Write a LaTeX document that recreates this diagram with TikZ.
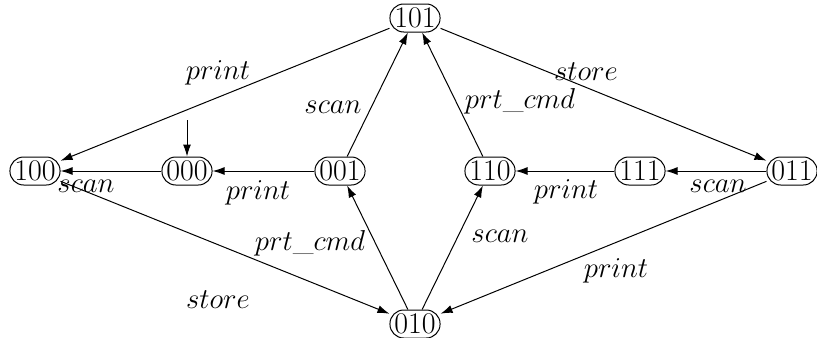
\documentclass[tikz,border=0pt]{standalone}
\usetikzlibrary{arrows.meta}
\begin{document}
\begin{tikzpicture}[x=0.5pt,y=-0.5pt,
  st/.style={draw,rounded corners=6.9pt,inner xsep=2.2pt,inner ysep=0pt,minimum height=14pt,line width=0.5pt,font=\fontsize{15}{18}\selectfont},
  lab/.style={font=\fontsize{15}{18}\selectfont,inner sep=0pt},
  tr/.style={-{Latex[length=6pt,width=4pt]},line width=0.5pt}]
\useasboundingbox (0,0) rectangle (817,337);
\node[st] (s101) at (415,18) {101};
\node[st] (s100) at (35,171) {100};
\node[st] (s000) at (187,171) {000};
\node[st] (s001) at (340,171) {001};
\node[st] (s110) at (490,171) {110};
\node[st] (s111) at (640,171) {111};
\node[st] (s011) at (792,171) {011};
\node[st] (s010) at (415,324) {010};
\coordinate (init) at (187,120);
\draw[tr] (init) -- (s000);
\draw[tr] (s101) -- (s100);
\draw[tr] (s101) -- (s011);
\draw[tr] (s001) -- (s101);
\draw[tr] (s110) -- (s101);
\draw[tr] (s000) -- (s100);
\draw[tr] (s001) -- (s000);
\draw[tr] (s111) -- (s110);
\draw[tr] (s011) -- (s111);
\draw[tr] (s100) -- (s010);
\draw[tr] (s011) -- (s010);
\draw[tr] (s010) -- (s001);
\draw[tr] (s010) -- (s110);
\node[lab] (l1) at (218,73) {$print$};
\node[lab] (l2) at (586,72) {$store$};
\node[lab] (l3) at (333,107) {$scan$};
\node[lab] (l4) at (520,101) {$prt\_cmd$};
\node[lab] (l5) at (86,186) {$scan$};
\node[lab] (l6) at (258,193) {$print$};
\node[lab] (l7) at (566,192) {$print$};
\node[lab] (l8) at (718,186) {$scan$};
\node[lab] (l9) at (218,300) {$store$};
\node[lab] (l10) at (310,243) {$prt\_cmd$};
\node[lab] (l11) at (500,236) {$scan$};
\node[lab] (l12) at (616,271) {$print$};
\end{tikzpicture}
\end{document}
